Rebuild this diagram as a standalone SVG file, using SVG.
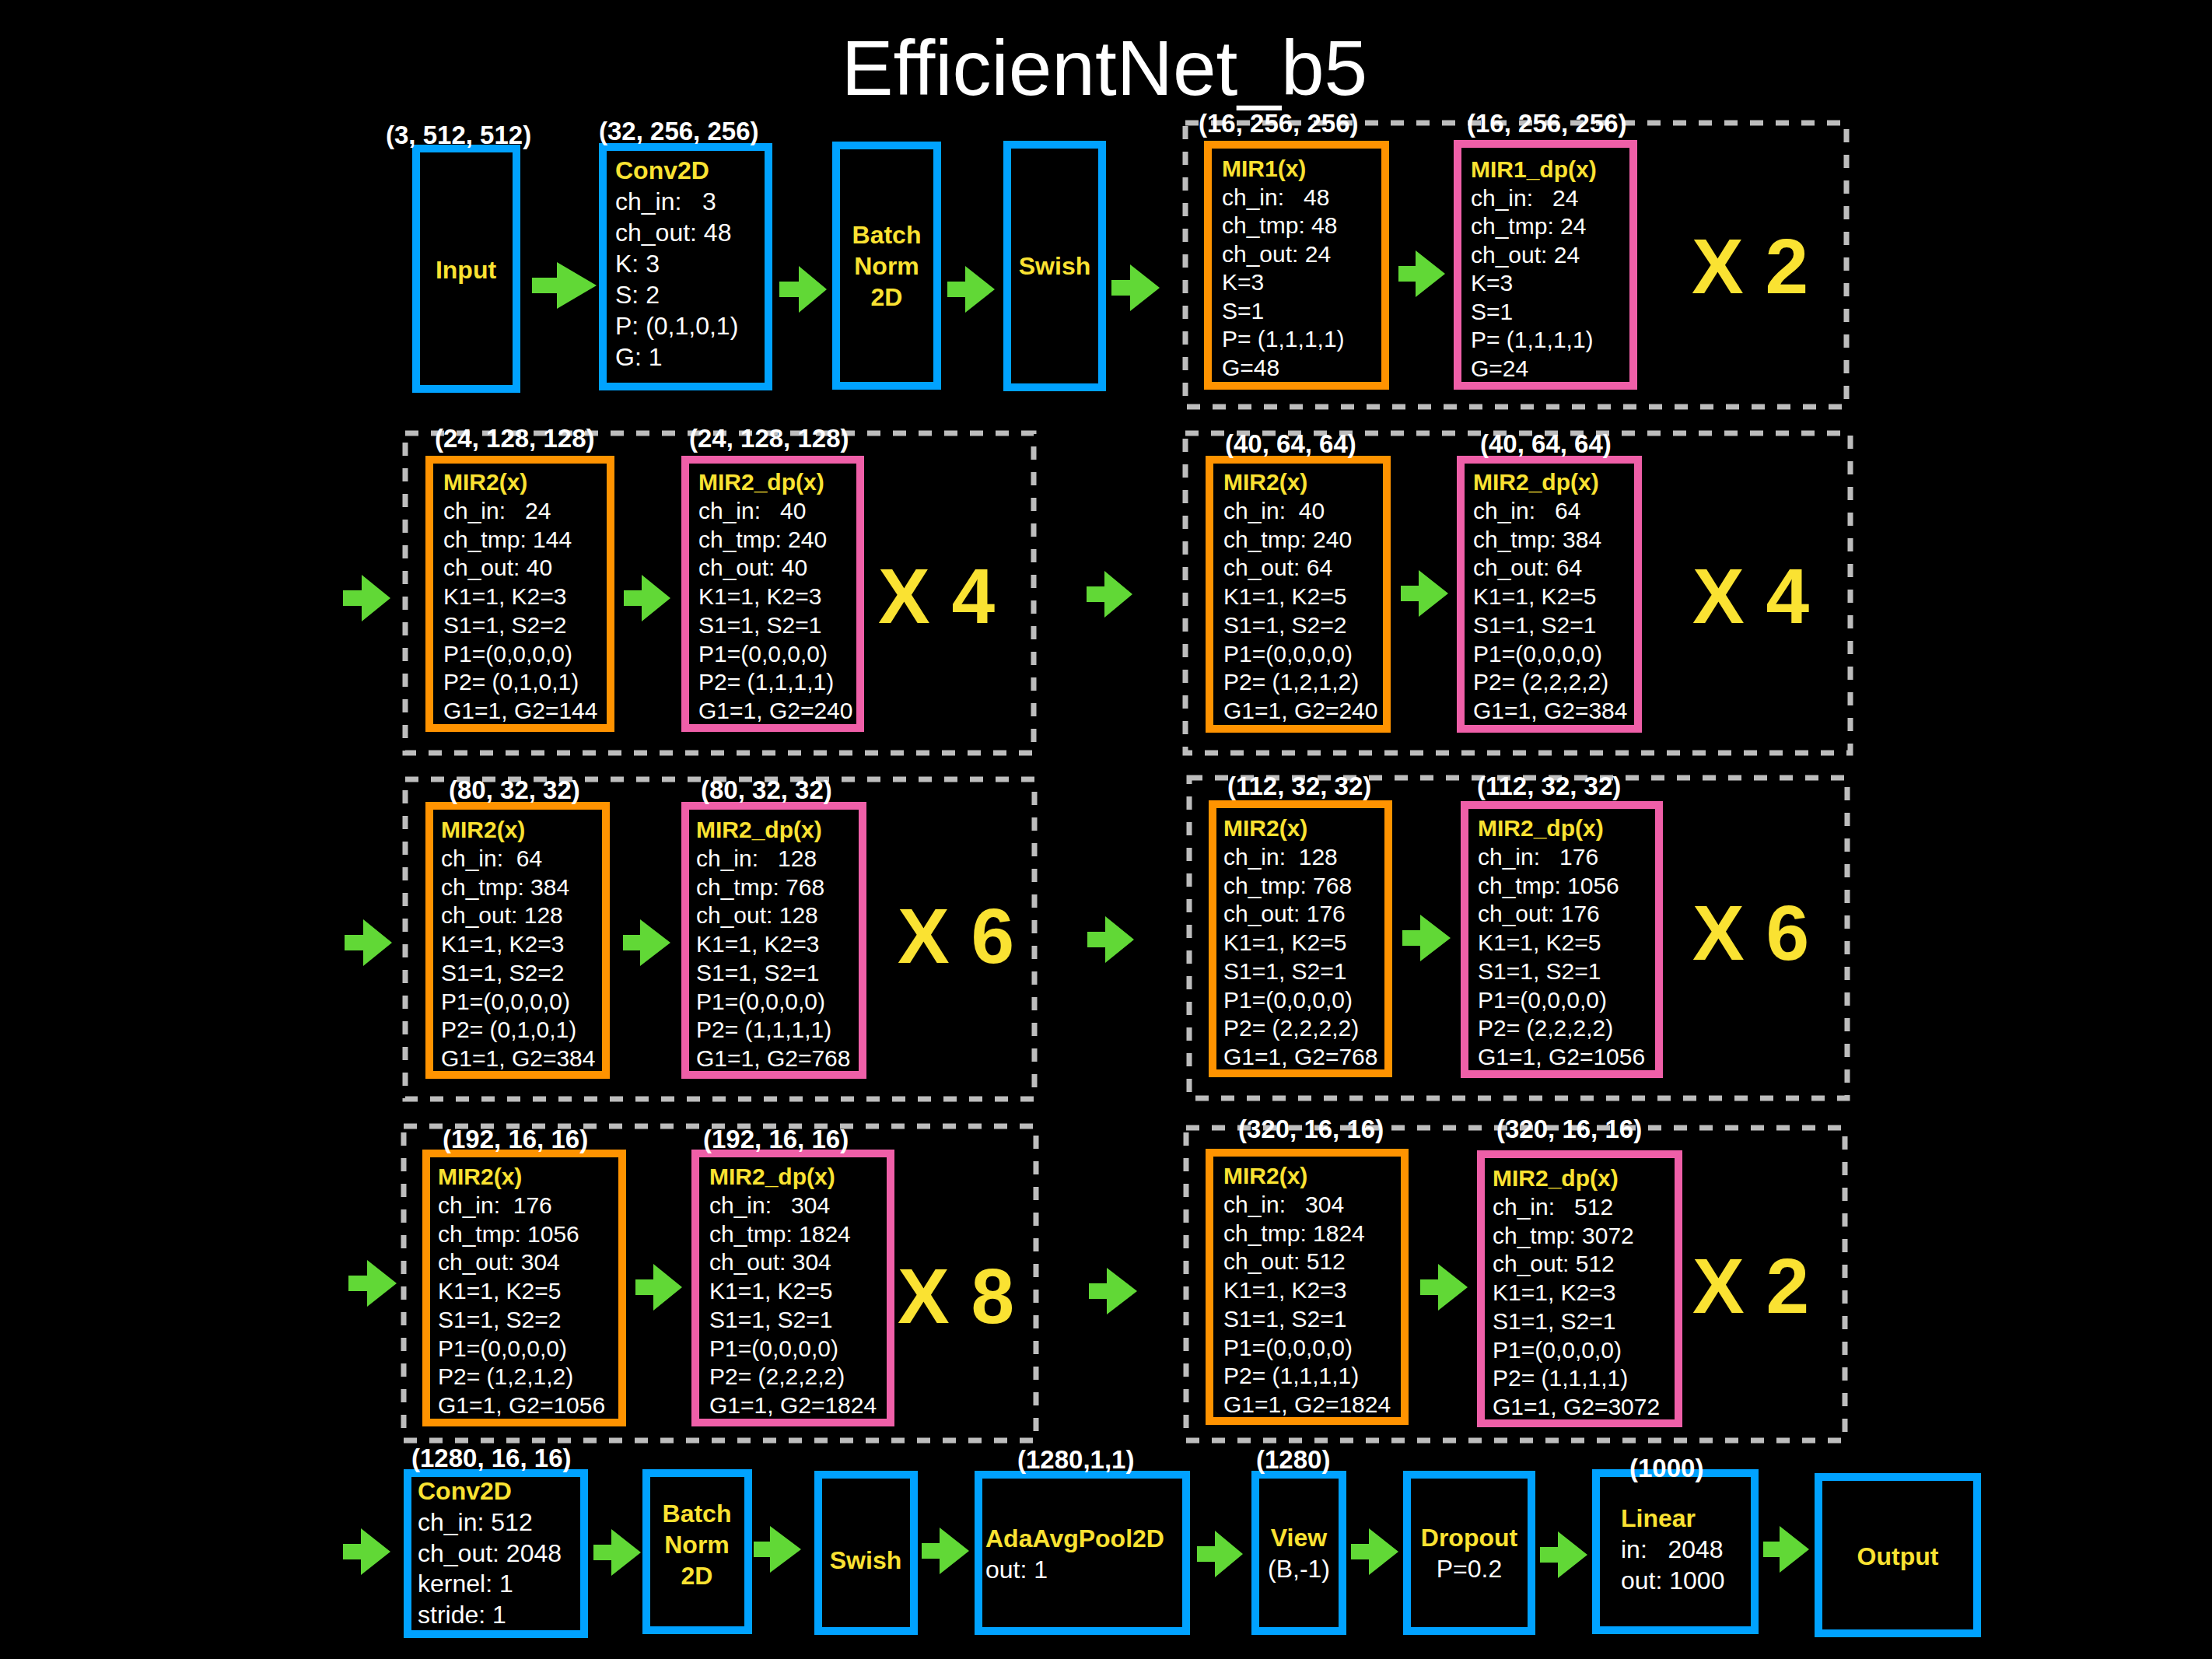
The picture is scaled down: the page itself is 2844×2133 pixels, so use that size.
<svg xmlns="http://www.w3.org/2000/svg" width="2844" height="2133" viewBox="0 0 2844 2133">
<style>
.bl{fill:none;stroke:#00A2FF;stroke-width:10}
.or{fill:none;stroke:#FF9300;stroke-width:10}
.pk{fill:none;stroke:#EF5FA8;stroke-width:10}
.dash{fill:none;stroke:#BDBDBD;stroke-width:7;stroke-dasharray:17 16}
.arr{fill:#61D836}
text{font-family:"Liberation Sans",Arial,Helvetica,sans-serif;white-space:pre}
.w{fill:#FFFFFF}
.y{fill:#FAE232;font-weight:bold}
.lbl{fill:#FFFFFF;font-weight:bold;font-size:33px}
.s30{font-size:30px}
.s32{font-size:32px}
.big{font-size:100px;font-weight:bold;fill:#FAE232}
.c{text-anchor:middle}
</style>
<rect x="0" y="0" width="2844" height="2133" fill="#000000"/>
<text id="title" x="1420" y="122" class="c" font-size="100" fill="#FFFFFF">EfficientNet_b5</text>

<g id="groups">
<rect id="grp1" class="dash" x="1524" y="158" width="850" height="365"/>
<rect id="grp2" class="dash" x="521" y="557" width="808" height="411"/>
<rect id="grp3" class="dash" x="1524" y="557" width="855" height="411"/>
<rect id="grp4" class="dash" x="521" y="1002" width="809" height="411"/>
<rect id="grp5" class="dash" x="1529" y="1000" width="846" height="412"/>
<rect id="grp6" class="dash" x="519" y="1448" width="813" height="404"/>
<rect id="grp7" class="dash" x="1525" y="1450" width="847" height="402"/>
<text class="big" x="2175" y="377">X 2</text>
<text class="big" x="1129" y="801">X 4</text>
<text class="big" x="2176" y="801">X 4</text>
<text class="big" x="1154" y="1238">X 6</text>
<text class="big" x="2176" y="1234">X 6</text>
<text class="big" x="1154" y="1701">X 8</text>
<text class="big" x="2176" y="1688">X 2</text>
</g>

<g id="connectors">
<polygon class="arr" points="684,357 716,357 716,337 767,367 716,397 716,377 684,377"/>
<polygon class="arr" points="1002,362 1027,362 1027,342 1063,372 1027,402 1027,382 1002,382"/>
<polygon class="arr" points="1218,362 1241,362 1241,342 1279,372 1241,402 1241,382 1218,382"/>
<polygon class="arr" points="1429,360 1453,360 1453,340 1491,370 1453,400 1453,380 1429,380"/>
<polygon class="arr" points="1798,342 1820,342 1820,322 1858,352 1820,382 1820,362 1798,362"/>
<polygon class="arr" points="441,759 465,759 465,739 502,769 465,799 465,779 441,779"/>
<polygon class="arr" points="802,759 825,759 825,739 862,769 825,799 825,779 802,779"/>
<polygon class="arr" points="1397,754 1420,754 1420,734 1456,764 1420,794 1420,774 1397,774"/>
<polygon class="arr" points="1801,753 1824,753 1824,733 1862,763 1824,793 1824,773 1801,773"/>
<polygon class="arr" points="443,1202 467,1202 467,1182 504,1212 467,1242 467,1222 443,1222"/>
<polygon class="arr" points="801,1202 823,1202 823,1182 862,1212 823,1242 823,1222 801,1222"/>
<polygon class="arr" points="1398,1198 1421,1198 1421,1178 1458,1208 1421,1238 1421,1218 1398,1218"/>
<polygon class="arr" points="1803,1196 1826,1196 1826,1176 1865,1206 1826,1236 1826,1216 1803,1216"/>
<polygon class="arr" points="448,1640 472,1640 472,1620 510,1650 472,1680 472,1660 448,1660"/>
<polygon class="arr" points="817,1645 840,1645 840,1625 877,1655 840,1685 840,1665 817,1665"/>
<polygon class="arr" points="1400,1650 1423,1650 1423,1630 1462,1660 1423,1690 1423,1670 1400,1670"/>
<polygon class="arr" points="1826,1645 1849,1645 1849,1625 1887,1655 1849,1685 1849,1665 1826,1665"/>
<polygon class="arr" points="441,1985 464,1985 464,1965 502,1995 464,2025 464,2005 441,2005"/>
<polygon class="arr" points="763,1986 786,1986 786,1966 824,1996 786,2026 786,2006 763,2006"/>
<polygon class="arr" points="969,1982 990,1982 990,1962 1030,1992 990,2022 990,2002 969,2002"/>
<polygon class="arr" points="1185,1984 1208,1984 1208,1964 1246,1994 1208,2024 1208,2004 1185,2004"/>
<polygon class="arr" points="1539,1988 1562,1988 1562,1968 1598,1998 1562,2028 1562,2008 1539,2008"/>
<polygon class="arr" points="1737,1985 1760,1985 1760,1965 1798,1995 1760,2025 1760,2005 1737,2005"/>
<polygon class="arr" points="1980,1989 2003,1989 2003,1969 2041,1999 2003,2029 2003,2009 1980,2009"/>
<polygon class="arr" points="2267,1982 2288,1982 2288,1962 2326,1992 2288,2022 2288,2002 2267,2002"/>
</g>

<!-- Row 1 -->
<g id="input">
<rect class="bl" x="535" y="191" width="129" height="309"/>
<text class="lbl" x="496" y="185">(3, 512, 512)</text>
<text class="y s32 c" x="599" y="358">Input</text>
</g>
<g id="conv2d_1">
<rect class="bl" x="775" y="189" width="213" height="308"/>
<text class="lbl" x="770" y="180">(32, 256, 256)</text>
<text class="s32" x="791" y="230"><tspan class="y">Conv2D</tspan><tspan class="w" x="791" dy="40">ch_in:   3</tspan><tspan class="w" x="791" dy="40">ch_out: 48</tspan><tspan class="w" x="791" dy="40">K: 3</tspan><tspan class="w" x="791" dy="40">S: 2</tspan><tspan class="w" x="791" dy="40">P: (0,1,0,1)</tspan><tspan class="w" x="791" dy="40">G: 1</tspan></text>
</g>
<g id="bn_1">
<rect class="bl" x="1075" y="187" width="130" height="309"/>
<text class="y s32 c" x="1140" y="313">Batch<tspan x="1140" dy="40">Norm</tspan><tspan x="1140" dy="40">2D</tspan></text>
</g>
<g id="swish_1">
<rect class="bl" x="1295" y="186" width="122" height="312"/>
<text class="y s32 c" x="1356" y="353">Swish</text>
</g>
<g id="mir1">
<rect class="or" x="1553" y="186" width="228" height="310"/>
<text class="lbl" x="1541" y="170">(16, 256, 256)</text>
<text class="s30" x="1571" y="227"><tspan class="y">MIR1(x)</tspan><tspan class="w" x="1571" dy="36.5">ch_in:   48</tspan><tspan class="w" x="1571" dy="36.5">ch_tmp: 48</tspan><tspan class="w" x="1571" dy="36.5">ch_out: 24</tspan><tspan class="w" x="1571" dy="36.5">K=3</tspan><tspan class="w" x="1571" dy="36.5">S=1</tspan><tspan class="w" x="1571" dy="36.5">P= (1,1,1,1)</tspan><tspan class="w" x="1571" dy="36.5">G=48</tspan></text>
</g>
<g id="mir1_dp">
<rect class="pk" x="1874" y="185" width="226" height="311"/>
<text class="lbl" x="1886" y="170">(16, 256, 256)</text>
<text class="s30" x="1891" y="228"><tspan class="y">MIR1_dp(x)</tspan><tspan class="w" x="1891" dy="36.5">ch_in:   24</tspan><tspan class="w" x="1891" dy="36.5">ch_tmp: 24</tspan><tspan class="w" x="1891" dy="36.5">ch_out: 24</tspan><tspan class="w" x="1891" dy="36.5">K=3</tspan><tspan class="w" x="1891" dy="36.5">S=1</tspan><tspan class="w" x="1891" dy="36.5">P= (1,1,1,1)</tspan><tspan class="w" x="1891" dy="36.5">G=24</tspan></text>
</g>

<!-- Row 2 -->
<g id="mir2_a">
<rect class="or" x="552" y="591" width="233" height="345"/>
<text class="lbl" x="559" y="575">(24, 128, 128)</text>
<text class="s30" x="570" y="630"><tspan class="y">MIR2(x)</tspan><tspan class="w" x="570" dy="36.75">ch_in:   24</tspan><tspan class="w" x="570" dy="36.75">ch_tmp: 144</tspan><tspan class="w" x="570" dy="36.75">ch_out: 40</tspan><tspan class="w" x="570" dy="36.75">K1=1, K2=3</tspan><tspan class="w" x="570" dy="36.75">S1=1, S2=2</tspan><tspan class="w" x="570" dy="36.75">P1=(0,0,0,0)</tspan><tspan class="w" x="570" dy="36.75">P2= (0,1,0,1)</tspan><tspan class="w" x="570" dy="36.75">G1=1, G2=144</tspan></text>
</g>
<g id="mir2_dp_a">
<rect class="pk" x="881" y="591" width="225" height="345"/>
<text class="lbl" x="886" y="575">(24, 128, 128)</text>
<text class="s30" x="898" y="630"><tspan class="y">MIR2_dp(x)</tspan><tspan class="w" x="898" dy="36.75">ch_in:   40</tspan><tspan class="w" x="898" dy="36.75">ch_tmp: 240</tspan><tspan class="w" x="898" dy="36.75">ch_out: 40</tspan><tspan class="w" x="898" dy="36.75">K1=1, K2=3</tspan><tspan class="w" x="898" dy="36.75">S1=1, S2=1</tspan><tspan class="w" x="898" dy="36.75">P1=(0,0,0,0)</tspan><tspan class="w" x="898" dy="36.75">P2= (1,1,1,1)</tspan><tspan class="w" x="898" dy="36.75">G1=1, G2=240</tspan></text>
</g>
<g id="mir2_b">
<rect class="or" x="1555" y="591" width="228" height="346"/>
<text class="lbl" x="1575" y="582">(40, 64, 64)</text>
<text class="s30" x="1573" y="630"><tspan class="y">MIR2(x)</tspan><tspan class="w" x="1573" dy="36.75">ch_in:  40</tspan><tspan class="w" x="1573" dy="36.75">ch_tmp: 240</tspan><tspan class="w" x="1573" dy="36.75">ch_out: 64</tspan><tspan class="w" x="1573" dy="36.75">K1=1, K2=5</tspan><tspan class="w" x="1573" dy="36.75">S1=1, S2=2</tspan><tspan class="w" x="1573" dy="36.75">P1=(0,0,0,0)</tspan><tspan class="w" x="1573" dy="36.75">P2= (1,2,1,2)</tspan><tspan class="w" x="1573" dy="36.75">G1=1, G2=240</tspan></text>
</g>
<g id="mir2_dp_b">
<rect class="pk" x="1878" y="591" width="228" height="346"/>
<text class="lbl" x="1903" y="582">(40, 64, 64)</text>
<text class="s30" x="1894" y="630"><tspan class="y">MIR2_dp(x)</tspan><tspan class="w" x="1894" dy="36.75">ch_in:   64</tspan><tspan class="w" x="1894" dy="36.75">ch_tmp: 384</tspan><tspan class="w" x="1894" dy="36.75">ch_out: 64</tspan><tspan class="w" x="1894" dy="36.75">K1=1, K2=5</tspan><tspan class="w" x="1894" dy="36.75">S1=1, S2=1</tspan><tspan class="w" x="1894" dy="36.75">P1=(0,0,0,0)</tspan><tspan class="w" x="1894" dy="36.75">P2= (2,2,2,2)</tspan><tspan class="w" x="1894" dy="36.75">G1=1, G2=384</tspan></text>
</g>

<!-- Row 3 -->
<g id="mir2_c">
<rect class="or" x="552" y="1036" width="227" height="346"/>
<text class="lbl" x="577" y="1027">(80, 32, 32)</text>
<text class="s30" x="567" y="1077"><tspan class="y">MIR2(x)</tspan><tspan class="w" x="567" dy="36.75">ch_in:  64</tspan><tspan class="w" x="567" dy="36.75">ch_tmp: 384</tspan><tspan class="w" x="567" dy="36.75">ch_out: 128</tspan><tspan class="w" x="567" dy="36.75">K1=1, K2=3</tspan><tspan class="w" x="567" dy="36.75">S1=1, S2=2</tspan><tspan class="w" x="567" dy="36.75">P1=(0,0,0,0)</tspan><tspan class="w" x="567" dy="36.75">P2= (0,1,0,1)</tspan><tspan class="w" x="567" dy="36.75">G1=1, G2=384</tspan></text>
</g>
<g id="mir2_dp_c">
<rect class="pk" x="881" y="1036" width="228" height="346"/>
<text class="lbl" x="901" y="1027">(80, 32, 32)</text>
<text class="s30" x="895" y="1077"><tspan class="y">MIR2_dp(x)</tspan><tspan class="w" x="895" dy="36.75">ch_in:   128</tspan><tspan class="w" x="895" dy="36.75">ch_tmp: 768</tspan><tspan class="w" x="895" dy="36.75">ch_out: 128</tspan><tspan class="w" x="895" dy="36.75">K1=1, K2=3</tspan><tspan class="w" x="895" dy="36.75">S1=1, S2=1</tspan><tspan class="w" x="895" dy="36.75">P1=(0,0,0,0)</tspan><tspan class="w" x="895" dy="36.75">P2= (1,1,1,1)</tspan><tspan class="w" x="895" dy="36.75">G1=1, G2=768</tspan></text>
</g>
<g id="mir2_d">
<rect class="or" x="1559" y="1034" width="226" height="346"/>
<text class="lbl" x="1578" y="1022">(112, 32, 32)</text>
<text class="s30" x="1573" y="1075"><tspan class="y">MIR2(x)</tspan><tspan class="w" x="1573" dy="36.75">ch_in:  128</tspan><tspan class="w" x="1573" dy="36.75">ch_tmp: 768</tspan><tspan class="w" x="1573" dy="36.75">ch_out: 176</tspan><tspan class="w" x="1573" dy="36.75">K1=1, K2=5</tspan><tspan class="w" x="1573" dy="36.75">S1=1, S2=1</tspan><tspan class="w" x="1573" dy="36.75">P1=(0,0,0,0)</tspan><tspan class="w" x="1573" dy="36.75">P2= (2,2,2,2)</tspan><tspan class="w" x="1573" dy="36.75">G1=1, G2=768</tspan></text>
</g>
<g id="mir2_dp_d">
<rect class="pk" x="1883" y="1035" width="250" height="346"/>
<text class="lbl" x="1899" y="1022">(112, 32, 32)</text>
<text class="s30" x="1900" y="1075"><tspan class="y">MIR2_dp(x)</tspan><tspan class="w" x="1900" dy="36.75">ch_in:   176</tspan><tspan class="w" x="1900" dy="36.75">ch_tmp: 1056</tspan><tspan class="w" x="1900" dy="36.75">ch_out: 176</tspan><tspan class="w" x="1900" dy="36.75">K1=1, K2=5</tspan><tspan class="w" x="1900" dy="36.75">S1=1, S2=1</tspan><tspan class="w" x="1900" dy="36.75">P1=(0,0,0,0)</tspan><tspan class="w" x="1900" dy="36.75">P2= (2,2,2,2)</tspan><tspan class="w" x="1900" dy="36.75">G1=1, G2=1056</tspan></text>
</g>

<!-- Row 4 -->
<g id="mir2_e">
<rect class="or" x="548" y="1483" width="252" height="346"/>
<text class="lbl" x="569" y="1476">(192, 16, 16)</text>
<text class="s30" x="563" y="1523"><tspan class="y">MIR2(x)</tspan><tspan class="w" x="563" dy="36.75">ch_in:  176</tspan><tspan class="w" x="563" dy="36.75">ch_tmp: 1056</tspan><tspan class="w" x="563" dy="36.75">ch_out: 304</tspan><tspan class="w" x="563" dy="36.75">K1=1, K2=5</tspan><tspan class="w" x="563" dy="36.75">S1=1, S2=2</tspan><tspan class="w" x="563" dy="36.75">P1=(0,0,0,0)</tspan><tspan class="w" x="563" dy="36.75">P2= (1,2,1,2)</tspan><tspan class="w" x="563" dy="36.75">G1=1, G2=1056</tspan></text>
</g>
<g id="mir2_dp_e">
<rect class="pk" x="894" y="1483" width="251" height="346"/>
<text class="lbl" x="904" y="1476">(192, 16, 16)</text>
<text class="s30" x="912" y="1523"><tspan class="y">MIR2_dp(x)</tspan><tspan class="w" x="912" dy="36.75">ch_in:   304</tspan><tspan class="w" x="912" dy="36.75">ch_tmp: 1824</tspan><tspan class="w" x="912" dy="36.75">ch_out: 304</tspan><tspan class="w" x="912" dy="36.75">K1=1, K2=5</tspan><tspan class="w" x="912" dy="36.75">S1=1, S2=1</tspan><tspan class="w" x="912" dy="36.75">P1=(0,0,0,0)</tspan><tspan class="w" x="912" dy="36.75">P2= (2,2,2,2)</tspan><tspan class="w" x="912" dy="36.75">G1=1, G2=1824</tspan></text>
</g>
<g id="mir2_f">
<rect class="or" x="1555" y="1482" width="251" height="345"/>
<text class="lbl" x="1592" y="1463">(320, 16, 16)</text>
<text class="s30" x="1573" y="1522"><tspan class="y">MIR2(x)</tspan><tspan class="w" x="1573" dy="36.75">ch_in:   304</tspan><tspan class="w" x="1573" dy="36.75">ch_tmp: 1824</tspan><tspan class="w" x="1573" dy="36.75">ch_out: 512</tspan><tspan class="w" x="1573" dy="36.75">K1=1, K2=3</tspan><tspan class="w" x="1573" dy="36.75">S1=1, S2=1</tspan><tspan class="w" x="1573" dy="36.75">P1=(0,0,0,0)</tspan><tspan class="w" x="1573" dy="36.75">P2= (1,1,1,1)</tspan><tspan class="w" x="1573" dy="36.75">G1=1, G2=1824</tspan></text>
</g>
<g id="mir2_dp_f">
<rect class="pk" x="1904" y="1484" width="254" height="346"/>
<text class="lbl" x="1924" y="1463">(320, 16, 16)</text>
<text class="s30" x="1919" y="1525"><tspan class="y">MIR2_dp(x)</tspan><tspan class="w" x="1919" dy="36.75">ch_in:   512</tspan><tspan class="w" x="1919" dy="36.75">ch_tmp: 3072</tspan><tspan class="w" x="1919" dy="36.75">ch_out: 512</tspan><tspan class="w" x="1919" dy="36.75">K1=1, K2=3</tspan><tspan class="w" x="1919" dy="36.75">S1=1, S2=1</tspan><tspan class="w" x="1919" dy="36.75">P1=(0,0,0,0)</tspan><tspan class="w" x="1919" dy="36.75">P2= (1,1,1,1)</tspan><tspan class="w" x="1919" dy="36.75">G1=1, G2=3072</tspan></text>
</g>

<!-- Row 5 -->
<g id="conv2d_2">
<rect class="bl" x="524" y="1894" width="227" height="207"/>
<text class="lbl" x="529" y="1886">(1280, 16, 16)</text>
<text class="s32" x="537" y="1928"><tspan class="y">Conv2D</tspan><tspan class="w" x="537" dy="39.8">ch_in: 512</tspan><tspan class="w" x="537" dy="39.8">ch_out: 2048</tspan><tspan class="w" x="537" dy="39.8">kernel: 1</tspan><tspan class="w" x="537" dy="39.8">stride: 1</tspan></text>
</g>
<g id="bn_2">
<rect class="bl" x="831" y="1894" width="131" height="202"/>
<text class="y s32 c" x="896" y="1957">Batch<tspan x="896" dy="40">Norm</tspan><tspan x="896" dy="40">2D</tspan></text>
</g>
<g id="swish_2">
<rect class="bl" x="1052" y="1896" width="123" height="201"/>
<text class="y s32 c" x="1113" y="2017">Swish</text>
</g>
<g id="adaavgpool">
<rect class="bl" x="1258" y="1896" width="267" height="201"/>
<text class="lbl" x="1308" y="1888">(1280,1,1)</text>
<text class="s32" x="1267" y="1989"><tspan class="y">AdaAvgPool2D</tspan><tspan class="w" x="1267" dy="40">out: 1</tspan></text>
</g>
<g id="view">
<rect class="bl" x="1614" y="1896" width="112" height="201"/>
<text class="lbl" x="1615" y="1888">(1280)</text>
<text class="s32 c" x="1670" y="1988"><tspan class="y">View</tspan><tspan class="w" x="1670" dy="40">(B,-1)</tspan></text>
</g>
<g id="dropout">
<rect class="bl" x="1809" y="1896" width="160" height="201"/>
<text class="s32 c" x="1889" y="1988"><tspan class="y">Dropout</tspan><tspan class="w" x="1889" dy="40">P=0.2</tspan></text>
</g>
<g id="linear">
<rect class="bl" x="2052" y="1894" width="204" height="202"/>
<text class="lbl" x="2095" y="1899">(1000)</text>
<text class="s32" x="2084" y="1963"><tspan class="y">Linear</tspan><tspan class="w" x="2084" dy="40">in:   2048</tspan><tspan class="w" x="2084" dy="40">out: 1000</tspan></text>
</g>
<g id="output">
<rect class="bl" x="2338" y="1899" width="204" height="201"/>
<text class="y s32 c" x="2440" y="2012">Output</text>
</g>
</svg>
